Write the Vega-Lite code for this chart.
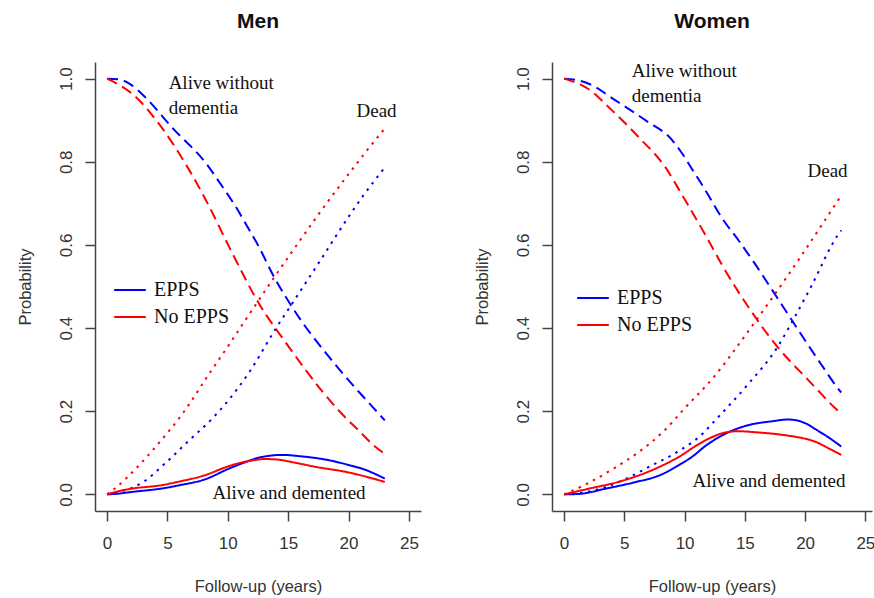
{
  "$schema": "https://vega.github.io/schema/vega-lite/v6.json",
  "background": "white",
  "padding": {"left": 17, "top": 11, "right": 0, "bottom": 0},
  "spacing": 53,
  "datasets": {
    "curves": [
      {"sex":"Men","group":"EPPS","state":"alive","year":0,"prob":1},
      {"sex":"Men","group":"EPPS","state":"alive","year":1,"prob":0.998},
      {"sex":"Men","group":"EPPS","state":"alive","year":2,"prob":0.985},
      {"sex":"Men","group":"EPPS","state":"alive","year":3.2,"prob":0.954},
      {"sex":"Men","group":"EPPS","state":"alive","year":5.4,"prob":0.882},
      {"sex":"Men","group":"EPPS","state":"alive","year":8.2,"prob":0.796},
      {"sex":"Men","group":"EPPS","state":"alive","year":9.6,"prob":0.738},
      {"sex":"Men","group":"EPPS","state":"alive","year":10.7,"prob":0.69},
      {"sex":"Men","group":"EPPS","state":"alive","year":11.6,"prob":0.645},
      {"sex":"Men","group":"EPPS","state":"alive","year":12.6,"prob":0.594},
      {"sex":"Men","group":"EPPS","state":"alive","year":13.7,"prob":0.53},
      {"sex":"Men","group":"EPPS","state":"alive","year":15.7,"prob":0.434},
      {"sex":"Men","group":"EPPS","state":"alive","year":18.4,"prob":0.33},
      {"sex":"Men","group":"EPPS","state":"alive","year":20.9,"prob":0.245},
      {"sex":"Men","group":"EPPS","state":"alive","year":22,"prob":0.21},
      {"sex":"Men","group":"EPPS","state":"alive","year":23,"prob":0.178},
      {"sex":"Men","group":"No EPPS","state":"alive","year":0,"prob":1},
      {"sex":"Men","group":"No EPPS","state":"alive","year":1,"prob":0.985},
      {"sex":"Men","group":"No EPPS","state":"alive","year":2.1,"prob":0.963},
      {"sex":"Men","group":"No EPPS","state":"alive","year":4.3,"prob":0.891},
      {"sex":"Men","group":"No EPPS","state":"alive","year":6.5,"prob":0.795},
      {"sex":"Men","group":"No EPPS","state":"alive","year":8.2,"prob":0.707},
      {"sex":"Men","group":"No EPPS","state":"alive","year":10.2,"prob":0.59},
      {"sex":"Men","group":"No EPPS","state":"alive","year":12.6,"prob":0.458},
      {"sex":"Men","group":"No EPPS","state":"alive","year":14.8,"prob":0.365},
      {"sex":"Men","group":"No EPPS","state":"alive","year":16.3,"prob":0.305},
      {"sex":"Men","group":"No EPPS","state":"alive","year":17.9,"prob":0.245},
      {"sex":"Men","group":"No EPPS","state":"alive","year":19.4,"prob":0.195},
      {"sex":"Men","group":"No EPPS","state":"alive","year":20.9,"prob":0.152},
      {"sex":"Men","group":"No EPPS","state":"alive","year":22,"prob":0.12},
      {"sex":"Men","group":"No EPPS","state":"alive","year":23,"prob":0.097},
      {"sex":"Men","group":"EPPS","state":"dead","year":0,"prob":0},
      {"sex":"Men","group":"EPPS","state":"dead","year":1,"prob":0.006},
      {"sex":"Men","group":"EPPS","state":"dead","year":2,"prob":0.015},
      {"sex":"Men","group":"EPPS","state":"dead","year":3,"prob":0.03},
      {"sex":"Men","group":"EPPS","state":"dead","year":4.9,"prob":0.077},
      {"sex":"Men","group":"EPPS","state":"dead","year":6.8,"prob":0.13},
      {"sex":"Men","group":"EPPS","state":"dead","year":8.7,"prob":0.182},
      {"sex":"Men","group":"EPPS","state":"dead","year":10.1,"prob":0.228},
      {"sex":"Men","group":"EPPS","state":"dead","year":11.8,"prob":0.295},
      {"sex":"Men","group":"EPPS","state":"dead","year":14,"prob":0.4},
      {"sex":"Men","group":"EPPS","state":"dead","year":15.4,"prob":0.462},
      {"sex":"Men","group":"EPPS","state":"dead","year":17.6,"prob":0.56},
      {"sex":"Men","group":"EPPS","state":"dead","year":20.1,"prob":0.672},
      {"sex":"Men","group":"EPPS","state":"dead","year":21.2,"prob":0.718},
      {"sex":"Men","group":"EPPS","state":"dead","year":23,"prob":0.786},
      {"sex":"Men","group":"No EPPS","state":"dead","year":0,"prob":0},
      {"sex":"Men","group":"No EPPS","state":"dead","year":0.6,"prob":0.013},
      {"sex":"Men","group":"No EPPS","state":"dead","year":2.65,"prob":0.07},
      {"sex":"Men","group":"No EPPS","state":"dead","year":4.3,"prob":0.124},
      {"sex":"Men","group":"No EPPS","state":"dead","year":6.2,"prob":0.192},
      {"sex":"Men","group":"No EPPS","state":"dead","year":8.5,"prob":0.292},
      {"sex":"Men","group":"No EPPS","state":"dead","year":10.1,"prob":0.36},
      {"sex":"Men","group":"No EPPS","state":"dead","year":11.2,"prob":0.408},
      {"sex":"Men","group":"No EPPS","state":"dead","year":13.7,"prob":0.516},
      {"sex":"Men","group":"No EPPS","state":"dead","year":15.4,"prob":0.587},
      {"sex":"Men","group":"No EPPS","state":"dead","year":17.6,"prob":0.677},
      {"sex":"Men","group":"No EPPS","state":"dead","year":20.1,"prob":0.774},
      {"sex":"Men","group":"No EPPS","state":"dead","year":22.6,"prob":0.866},
      {"sex":"Men","group":"No EPPS","state":"dead","year":23,"prob":0.88},
      {"sex":"Men","group":"EPPS","state":"demented","year":0,"prob":0},
      {"sex":"Men","group":"EPPS","state":"demented","year":1,"prob":0.002},
      {"sex":"Men","group":"EPPS","state":"demented","year":2.1,"prob":0.006},
      {"sex":"Men","group":"EPPS","state":"demented","year":4.5,"prob":0.014},
      {"sex":"Men","group":"EPPS","state":"demented","year":6,"prob":0.022},
      {"sex":"Men","group":"EPPS","state":"demented","year":8.1,"prob":0.036},
      {"sex":"Men","group":"EPPS","state":"demented","year":10.1,"prob":0.062},
      {"sex":"Men","group":"EPPS","state":"demented","year":11.5,"prob":0.078},
      {"sex":"Men","group":"EPPS","state":"demented","year":12.4,"prob":0.087},
      {"sex":"Men","group":"EPPS","state":"demented","year":13.5,"prob":0.093},
      {"sex":"Men","group":"EPPS","state":"demented","year":14.5,"prob":0.095},
      {"sex":"Men","group":"EPPS","state":"demented","year":15.9,"prob":0.092},
      {"sex":"Men","group":"EPPS","state":"demented","year":18.4,"prob":0.082},
      {"sex":"Men","group":"EPPS","state":"demented","year":20.1,"prob":0.07},
      {"sex":"Men","group":"EPPS","state":"demented","year":21.1,"prob":0.062},
      {"sex":"Men","group":"EPPS","state":"demented","year":23,"prob":0.038},
      {"sex":"Men","group":"No EPPS","state":"demented","year":0,"prob":0},
      {"sex":"Men","group":"No EPPS","state":"demented","year":1,"prob":0.008},
      {"sex":"Men","group":"No EPPS","state":"demented","year":2.1,"prob":0.014},
      {"sex":"Men","group":"No EPPS","state":"demented","year":4.5,"prob":0.022},
      {"sex":"Men","group":"No EPPS","state":"demented","year":6,"prob":0.031},
      {"sex":"Men","group":"No EPPS","state":"demented","year":8.1,"prob":0.046},
      {"sex":"Men","group":"No EPPS","state":"demented","year":9.9,"prob":0.066},
      {"sex":"Men","group":"No EPPS","state":"demented","year":10.9,"prob":0.075},
      {"sex":"Men","group":"No EPPS","state":"demented","year":12.1,"prob":0.082},
      {"sex":"Men","group":"No EPPS","state":"demented","year":13.1,"prob":0.085},
      {"sex":"Men","group":"No EPPS","state":"demented","year":14,"prob":0.084},
      {"sex":"Men","group":"No EPPS","state":"demented","year":15.6,"prob":0.076},
      {"sex":"Men","group":"No EPPS","state":"demented","year":17.3,"prob":0.066},
      {"sex":"Men","group":"No EPPS","state":"demented","year":19.8,"prob":0.054},
      {"sex":"Men","group":"No EPPS","state":"demented","year":23,"prob":0.03},
      {"sex":"Women","group":"EPPS","state":"alive","year":0,"prob":1},
      {"sex":"Women","group":"EPPS","state":"alive","year":1,"prob":0.997},
      {"sex":"Women","group":"EPPS","state":"alive","year":2.1,"prob":0.987},
      {"sex":"Women","group":"EPPS","state":"alive","year":4.3,"prob":0.947},
      {"sex":"Women","group":"EPPS","state":"alive","year":6.8,"prob":0.899},
      {"sex":"Women","group":"EPPS","state":"alive","year":9,"prob":0.851},
      {"sex":"Women","group":"EPPS","state":"alive","year":9.7,"prob":0.824},
      {"sex":"Women","group":"EPPS","state":"alive","year":10.65,"prob":0.781},
      {"sex":"Women","group":"EPPS","state":"alive","year":11.8,"prob":0.728},
      {"sex":"Women","group":"EPPS","state":"alive","year":13.1,"prob":0.665},
      {"sex":"Women","group":"EPPS","state":"alive","year":14.5,"prob":0.61},
      {"sex":"Women","group":"EPPS","state":"alive","year":15.9,"prob":0.552},
      {"sex":"Women","group":"EPPS","state":"alive","year":17.3,"prob":0.49},
      {"sex":"Women","group":"EPPS","state":"alive","year":18.7,"prob":0.428},
      {"sex":"Women","group":"EPPS","state":"alive","year":20,"prob":0.37},
      {"sex":"Women","group":"EPPS","state":"alive","year":21.4,"prob":0.31},
      {"sex":"Women","group":"EPPS","state":"alive","year":22.8,"prob":0.252},
      {"sex":"Women","group":"EPPS","state":"alive","year":23,"prob":0.245},
      {"sex":"Women","group":"No EPPS","state":"alive","year":0,"prob":1},
      {"sex":"Women","group":"No EPPS","state":"alive","year":1,"prob":0.99},
      {"sex":"Women","group":"No EPPS","state":"alive","year":1.8,"prob":0.979},
      {"sex":"Women","group":"No EPPS","state":"alive","year":4,"prob":0.923},
      {"sex":"Women","group":"No EPPS","state":"alive","year":6.2,"prob":0.859},
      {"sex":"Women","group":"No EPPS","state":"alive","year":8.4,"prob":0.787},
      {"sex":"Women","group":"No EPPS","state":"alive","year":9.8,"prob":0.72},
      {"sex":"Women","group":"No EPPS","state":"alive","year":11.8,"prob":0.62},
      {"sex":"Women","group":"No EPPS","state":"alive","year":13.1,"prob":0.552},
      {"sex":"Women","group":"No EPPS","state":"alive","year":15.9,"prob":0.425},
      {"sex":"Women","group":"No EPPS","state":"alive","year":17.7,"prob":0.355},
      {"sex":"Women","group":"No EPPS","state":"alive","year":18.7,"prob":0.322},
      {"sex":"Women","group":"No EPPS","state":"alive","year":20.1,"prob":0.28},
      {"sex":"Women","group":"No EPPS","state":"alive","year":21.4,"prob":0.24},
      {"sex":"Women","group":"No EPPS","state":"alive","year":22.5,"prob":0.207},
      {"sex":"Women","group":"No EPPS","state":"alive","year":23,"prob":0.195},
      {"sex":"Women","group":"EPPS","state":"dead","year":0,"prob":0},
      {"sex":"Women","group":"EPPS","state":"dead","year":1.2,"prob":0.003},
      {"sex":"Women","group":"EPPS","state":"dead","year":3.5,"prob":0.018},
      {"sex":"Women","group":"EPPS","state":"dead","year":5.1,"prob":0.037},
      {"sex":"Women","group":"EPPS","state":"dead","year":7.3,"prob":0.07},
      {"sex":"Women","group":"EPPS","state":"dead","year":9.4,"prob":0.102},
      {"sex":"Women","group":"EPPS","state":"dead","year":11.5,"prob":0.146},
      {"sex":"Women","group":"EPPS","state":"dead","year":12.6,"prob":0.18},
      {"sex":"Women","group":"EPPS","state":"dead","year":15.3,"prob":0.266},
      {"sex":"Women","group":"EPPS","state":"dead","year":17.7,"prob":0.354},
      {"sex":"Women","group":"EPPS","state":"dead","year":18.9,"prob":0.414},
      {"sex":"Women","group":"EPPS","state":"dead","year":20.5,"prob":0.5},
      {"sex":"Women","group":"EPPS","state":"dead","year":22.7,"prob":0.623},
      {"sex":"Women","group":"EPPS","state":"dead","year":23,"prob":0.635},
      {"sex":"Women","group":"No EPPS","state":"dead","year":0,"prob":0},
      {"sex":"Women","group":"No EPPS","state":"dead","year":2.2,"prob":0.03},
      {"sex":"Women","group":"No EPPS","state":"dead","year":4.1,"prob":0.062},
      {"sex":"Women","group":"No EPPS","state":"dead","year":6.2,"prob":0.102},
      {"sex":"Women","group":"No EPPS","state":"dead","year":8.2,"prob":0.15},
      {"sex":"Women","group":"No EPPS","state":"dead","year":10.1,"prob":0.21},
      {"sex":"Women","group":"No EPPS","state":"dead","year":12.3,"prob":0.278},
      {"sex":"Women","group":"No EPPS","state":"dead","year":15.1,"prob":0.385},
      {"sex":"Women","group":"No EPPS","state":"dead","year":15.8,"prob":0.413},
      {"sex":"Women","group":"No EPPS","state":"dead","year":17.4,"prob":0.478},
      {"sex":"Women","group":"No EPPS","state":"dead","year":18.7,"prob":0.532},
      {"sex":"Women","group":"No EPPS","state":"dead","year":20.1,"prob":0.592},
      {"sex":"Women","group":"No EPPS","state":"dead","year":23,"prob":0.719},
      {"sex":"Women","group":"EPPS","state":"demented","year":0,"prob":0},
      {"sex":"Women","group":"EPPS","state":"demented","year":1.2,"prob":0.001},
      {"sex":"Women","group":"EPPS","state":"demented","year":3.5,"prob":0.014},
      {"sex":"Women","group":"EPPS","state":"demented","year":5.7,"prob":0.028},
      {"sex":"Women","group":"EPPS","state":"demented","year":8.1,"prob":0.048},
      {"sex":"Women","group":"EPPS","state":"demented","year":9.5,"prob":0.07},
      {"sex":"Women","group":"EPPS","state":"demented","year":10.6,"prob":0.09},
      {"sex":"Women","group":"EPPS","state":"demented","year":11.8,"prob":0.118},
      {"sex":"Women","group":"EPPS","state":"demented","year":13.4,"prob":0.146},
      {"sex":"Women","group":"EPPS","state":"demented","year":15.1,"prob":0.165},
      {"sex":"Women","group":"EPPS","state":"demented","year":17.3,"prob":0.176},
      {"sex":"Women","group":"EPPS","state":"demented","year":18.6,"prob":0.18},
      {"sex":"Women","group":"EPPS","state":"demented","year":19.3,"prob":0.178},
      {"sex":"Women","group":"EPPS","state":"demented","year":20.1,"prob":0.17},
      {"sex":"Women","group":"EPPS","state":"demented","year":20.9,"prob":0.156},
      {"sex":"Women","group":"EPPS","state":"demented","year":22,"prob":0.136},
      {"sex":"Women","group":"EPPS","state":"demented","year":23,"prob":0.115},
      {"sex":"Women","group":"No EPPS","state":"demented","year":0,"prob":0},
      {"sex":"Women","group":"No EPPS","state":"demented","year":2.1,"prob":0.014},
      {"sex":"Women","group":"No EPPS","state":"demented","year":4.5,"prob":0.03},
      {"sex":"Women","group":"No EPPS","state":"demented","year":7.6,"prob":0.062},
      {"sex":"Women","group":"No EPPS","state":"demented","year":9.8,"prob":0.095},
      {"sex":"Women","group":"No EPPS","state":"demented","year":10.9,"prob":0.116},
      {"sex":"Women","group":"No EPPS","state":"demented","year":12.3,"prob":0.138},
      {"sex":"Women","group":"No EPPS","state":"demented","year":13.4,"prob":0.149},
      {"sex":"Women","group":"No EPPS","state":"demented","year":14.5,"prob":0.152},
      {"sex":"Women","group":"No EPPS","state":"demented","year":15.6,"prob":0.15},
      {"sex":"Women","group":"No EPPS","state":"demented","year":17.3,"prob":0.146},
      {"sex":"Women","group":"No EPPS","state":"demented","year":18.4,"prob":0.142},
      {"sex":"Women","group":"No EPPS","state":"demented","year":19.5,"prob":0.137},
      {"sex":"Women","group":"No EPPS","state":"demented","year":20.9,"prob":0.126},
      {"sex":"Women","group":"No EPPS","state":"demented","year":22,"prob":0.11},
      {"sex":"Women","group":"No EPPS","state":"demented","year":23,"prob":0.095}
    ]
  },
  "config": {
    "view": {"stroke": null},
    "font": "Liberation Sans",
    "axis": {
      "grid": false,
      "domainColor": "#444",
      "domainWidth": 1.5,
      "tickColor": "#444",
      "tickWidth": 1.5,
      "tickSize": 10,
      "labelColor": "#333",
      "titleColor": "#333",
      "labelFont": "Liberation Sans",
      "titleFont": "Liberation Sans",
      "labelFontSize": 17,
      "titleFontSize": 16.5,
      "titleFontWeight": "normal"
    },
    "axisX": {"labelPadding": 14, "titlePadding": 27},
    "axisY": {"labelAngle": 270, "labelAlign": "center", "labelBaseline": "bottom", "labelPadding": 10, "titlePadding": 24},
    "title": {"font": "Liberation Sans", "fontSize": 21, "fontWeight": "bold", "color": "#111", "anchor": "middle", "offset": 30},
    "legend": {
      "orient": "none",
      "padding": 0,
      "symbolType": "stroke",
      "symbolStrokeWidth": 2,
      "symbolSize": 1000,
      "labelFont": "Liberation Serif",
      "labelFontSize": 20,
      "labelColor": "#111",
      "labelOffset": 7,
      "rowPadding": -10
    },
    "text": {"font": "Liberation Serif", "fontSize": 19, "color": "#111", "align": "left", "baseline": "middle"}
  },
  "resolve": {"legend": {"color": "independent"}},
  "hconcat": [
    {
      "title": "Men",
      "width": 326,
      "height": 449,
      "layer": [
        {
          "data": {"name": "curves"},
          "transform": [{"filter": "datum.sex === 'Men'"}],
          "mark": {"type": "line", "strokeWidth": 2, "interpolate": "monotone"},
          "encoding": {
            "x": {"field": "year", "type": "quantitative", "title": "Follow-up (years)", "scale": {"domain": [-1, 26], "nice": false, "zero": false}, "axis": {"values": [0, 5, 10, 15, 20, 25]}},
            "y": {"field": "prob", "type": "quantitative", "title": "Probability", "scale": {"domain": [-0.04, 1.04], "nice": false, "zero": false}, "axis": {"values": [0, 0.2, 0.4, 0.6, 0.8, 1.0], "format": ".1f"}},
            "color": {"field": "group", "type": "nominal", "scale": {"domain": ["EPPS", "No EPPS"], "range": ["#0000ff", "#ff0000"]}, "legend": {"title": null, "legendX": 18, "legendY": 211}},
            "strokeDash": {"field": "state", "type": "nominal", "scale": {"domain": ["alive", "dead", "demented"], "range": [[11, 6], [2.5, 5.5], [1, 0]]}, "legend": null},
            "detail": {"field": "state"}
          }
        },
        {"data": {"values": [{}]}, "mark": {"type": "text"}, "encoding": {"x": {"datum": 5.1}, "y": {"datum": 0.99}, "text": {"value": "Alive without"}}},
        {"data": {"values": [{}]}, "mark": {"type": "text"}, "encoding": {"x": {"datum": 5.1}, "y": {"datum": 0.93}, "text": {"value": "dementia"}}},
        {"data": {"values": [{}]}, "mark": {"type": "text"}, "encoding": {"x": {"datum": 20.66}, "y": {"datum": 0.923}, "text": {"value": "Dead"}}},
        {"data": {"values": [{}]}, "mark": {"type": "text"}, "encoding": {"x": {"datum": 8.74}, "y": {"datum": 0.004}, "text": {"value": "Alive and demented"}}}
      ]
    },
    {
      "title": "Women",
      "width": 320,
      "height": 449,
      "layer": [
        {
          "data": {"name": "curves"},
          "transform": [{"filter": "datum.sex === 'Women'"}],
          "mark": {"type": "line", "strokeWidth": 2, "interpolate": "monotone"},
          "encoding": {
            "x": {"field": "year", "type": "quantitative", "title": "Follow-up (years)", "scale": {"domain": [-1, 25.55], "nice": false, "zero": false}, "axis": {"values": [0, 5, 10, 15, 20, 25]}},
            "y": {"field": "prob", "type": "quantitative", "title": "Probability", "scale": {"domain": [-0.04, 1.04], "nice": false, "zero": false}, "axis": {"values": [0, 0.2, 0.4, 0.6, 0.8, 1.0], "format": ".1f"}},
            "color": {"field": "group", "type": "nominal", "scale": {"domain": ["EPPS", "No EPPS"], "range": ["#0000ff", "#ff0000"]}, "legend": {"title": null, "legendX": 24, "legendY": 219}},
            "strokeDash": {"field": "state", "type": "nominal", "scale": {"domain": ["alive", "dead", "demented"], "range": [[11, 6], [2.5, 5.5], [1, 0]]}, "legend": null},
            "detail": {"field": "state"}
          }
        },
        {"data": {"values": [{}]}, "mark": {"type": "text"}, "encoding": {"x": {"datum": 5.62}, "y": {"datum": 1.018}, "text": {"value": "Alive without"}}},
        {"data": {"values": [{}]}, "mark": {"type": "text"}, "encoding": {"x": {"datum": 5.62}, "y": {"datum": 0.959}, "text": {"value": "dementia"}}},
        {"data": {"values": [{}]}, "mark": {"type": "text"}, "encoding": {"x": {"datum": 20.2}, "y": {"datum": 0.779}, "text": {"value": "Dead"}}},
        {"data": {"values": [{}]}, "mark": {"type": "text"}, "encoding": {"x": {"datum": 10.65}, "y": {"datum": 0.0325}, "text": {"value": "Alive and demented"}}}
      ]
    }
  ]
}
